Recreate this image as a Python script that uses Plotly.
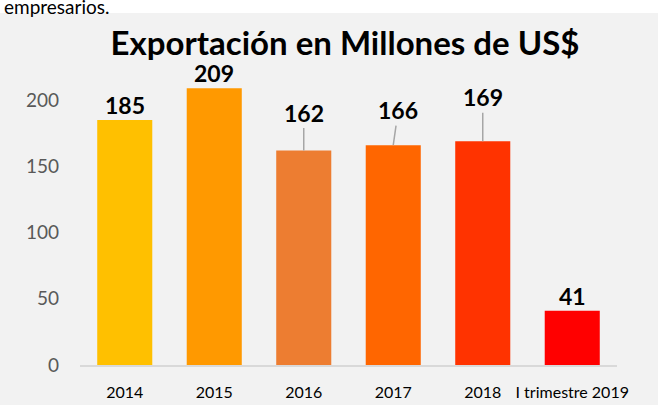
import plotly.graph_objects as go

categories = ["2014", "2015", "2016", "2017", "2018", "I trimestre 2019"]
values = [185, 209, 162, 166, 169, 41]
bar_colors = ["#FFC000", "#FF9900", "#ED7D31", "#FF6600", "#FF3300", "#FF0000"]
y_ticks = [0, 50, 100, 150, 200]
title_text = "Exportación en Millones de US$"
top_text = "empresarios."

FONT = "Lato, 'Open Sans', sans-serif"

xpos = list(range(len(categories)))

fig = go.Figure(go.Bar(
    x=xpos, y=values, marker=dict(color=bar_colors, line=dict(width=0)),
    width=0.615, customdata=categories,
    hovertemplate="%{customdata}: %{y}<extra></extra>",
))

# label offsets (pixels) for leader-line labels
leader = {"2016": (0, -38), "2017": (5, -35), "2018": (0, -44)}
annotations = []
for i, (c, v) in enumerate(zip(categories, values)):
    if c in leader:
        ax, ay = leader[c]
        annotations.append(dict(
            x=i, y=v, xref="x", yref="y", text=f"<b>{v}</b>", showarrow=True,
            arrowhead=0, arrowwidth=1.5, arrowcolor="#A6A6A6", ax=ax, ay=ay,
            font=dict(family=FONT, size=23, color="#000000"), standoff=0,
        ))
    else:
        annotations.append(dict(
            x=i, y=v, xref="x", yref="y", text=f"<b>{v}</b>", showarrow=False,
            yanchor="bottom",
            font=dict(family=FONT, size=23, color="#000000"), yshift=-1,
        ))

annotations.append(dict(
    xref="paper", yref="paper", x=-78 / 537, y=(365 - 20) / 331,
    xanchor="left", yanchor="bottom", text=top_text, showarrow=False,
    font=dict(family=FONT, size=19, color="#000000"),
))

fig.update_layout(
    width=658, height=405,
    margin=dict(l=80, r=41, t=34, b=40, autoexpand=False),
    paper_bgcolor="#F2F2F2", plot_bgcolor="#F2F2F2",
    showlegend=False,
    title=dict(text=f"<b>{title_text}</b>", x=345 / 658, xanchor="center",
               y=1 - 43 / 405, yanchor="middle",
               font=dict(family=FONT, size=33, color="#000000")),
    annotations=annotations,
    shapes=[dict(type="rect", xref="paper", yref="paper", x0=-0.2, x1=1.2,
                 y0=(365 - 13) / 331, y1=1.2, fillcolor="#FFFFFF",
                 line_width=0, layer="above")],
    xaxis=dict(range=[-0.5, len(categories) - 0.5], tickvals=xpos,
               ticktext=categories, showgrid=False, zeroline=False,
               showline=True, linecolor="#D9D9D9",
               linewidth=1.5, ticks="", ticklabelstandoff=12,
               tickfont=dict(family=FONT, size=16, color="#000000")),
    yaxis=dict(range=[0, 250], tickvals=y_ticks, showgrid=False,
               zeroline=False, showline=False, ticks="",
               ticklabelstandoff=20,
               tickfont=dict(family=FONT, size=19, color="#595959")),
)

fig.write_html("out.html",
               config={"displayModeBar": False},
               post_script="document.body.style.margin='0';")
